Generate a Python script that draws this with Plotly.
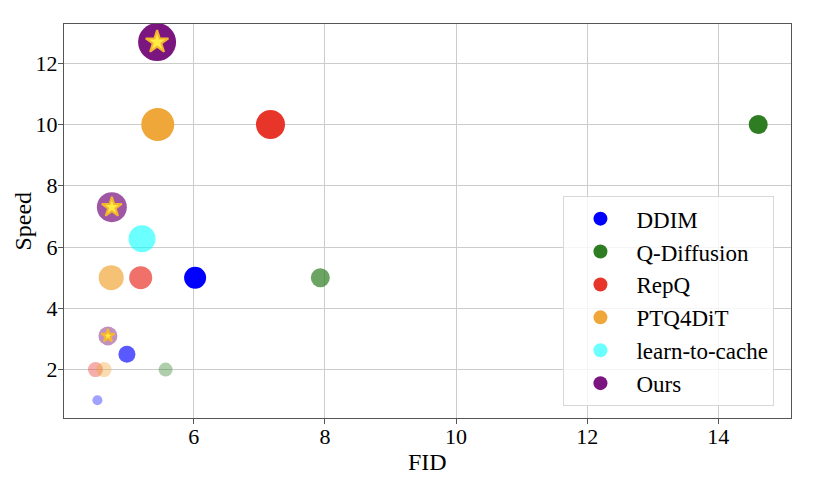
import plotly.graph_objects as go

# FID / speed for each method (three settings each)
methods = ["DDIM", "Q-Diffusion", "RepQ", "PTQ4DiT", "learn-to-cache", "Ours"]

ddim_fid = [6.02, 4.98, 4.53]
ddim_speed = [5.0, 2.5, 1.0]
ddim_size = [22, 17, 10]

qdiff_fid = [14.61, 7.93, 5.57]
qdiff_speed = [10.0, 5.0, 2.0]
qdiff_size = [19, 19, 14]

repq_fid = [7.17, 5.19, 4.50]
repq_speed = [10.0, 5.0, 2.0]
repq_size = [29, 23, 15]

ptq_fid = [5.45, 4.74, 4.63]
ptq_speed = [10.0, 5.0, 2.0]
ptq_size = [33, 25, 15]

l2c_fid = [5.21]
l2c_speed = [6.27]
l2c_size = [27]

ours_fid = [5.44, 4.75, 4.69]
ours_speed = [12.69, 7.3, 3.1]
ours_size = [38, 30, 19]
ours_star = [17, 15, 10]

series = [
    (methods[0], ddim_fid, ddim_speed, ddim_size, "#0000ff", [1.0, 0.65, 0.37]),
    (methods[1], qdiff_fid, qdiff_speed, qdiff_size, "#2e7d22", [1.0, 0.7, 0.38]),
    (methods[2], repq_fid, repq_speed, repq_size, "#e8352a", [1.0, 0.7, 0.4]),
    (methods[3], ptq_fid, ptq_speed, ptq_size, "#f0a73a", [1.0, 0.7, 0.4]),
    (methods[4], l2c_fid, l2c_speed, l2c_size, "#00ffff", [0.58]),
    (methods[5], ours_fid, ours_speed, ours_size, "#7b1680", [1.0, 0.72, 0.48]),
]

font = "Liberation Serif, Times New Roman, serif"

fig = go.Figure()
for name, fx, fy, sz, col, op in series:
    fig.add_trace(go.Scatter(x=fx, y=fy, mode="markers", showlegend=False,
                             marker=dict(size=sz, color=col, opacity=op,
                                         line=dict(width=0))))

# stars on top of our points (opacity set, bubble traces default to 0.7)
fig.add_trace(go.Scatter(x=ours_fid, y=ours_speed, mode="markers", showlegend=False,
                         marker=dict(symbol="star", size=ours_star, color="#ffec45",
                                     opacity=1, line=dict(color="#f5b52e", width=2))))

# legend entries
for name, fx, fy, sz, col, op in series:
    fig.add_trace(go.Scatter(x=[None], y=[None], mode="markers", name=name,
                             legendgroup=name,
                             marker=dict(size=14, color=col, opacity=op[0])))

# page body adds an 8px offset, so the figure is 8px smaller and margins shifted
fig.update_layout(
    width=820, height=476,
    margin=dict(l=56, r=37, t=16, b=66),
    paper_bgcolor="white", plot_bgcolor="white",
    font=dict(family=font, size=22, color="black"),
    legend=dict(x=0.687, y=0.03, xanchor="left", yanchor="bottom",
                bgcolor="rgba(255,255,255,0.8)", bordercolor="#d8d8d8", borderwidth=1,
                itemwidth=62, tracegroupgap=0, font=dict(size=23)),
    annotations=[
        dict(text="FID", x=0.5, y=-0.1125, xref="paper", yref="paper",
             xanchor="center", yanchor="middle", showarrow=False, font=dict(size=24)),
        dict(text="Speed", x=-0.057, y=0.5, xref="paper", yref="paper", textangle=-90,
             xanchor="center", yanchor="middle", showarrow=False, font=dict(size=24)),
    ],
)
fig.update_xaxes(range=[4.02, 15.11], dtick=2, tick0=0,
                 showgrid=True, gridcolor="#cccccc", gridwidth=1,
                 showline=True, linecolor="#555555", linewidth=1, mirror=True,
                 ticks="outside", ticklen=5, tickcolor="#555555",
                 zeroline=False, automargin=False, ticklabelstandoff=-6)
fig.update_yaxes(range=[0.42, 13.28], dtick=2, tick0=0,
                 showgrid=True, gridcolor="#cccccc", gridwidth=1,
                 showline=True, linecolor="#555555", linewidth=1, mirror=True,
                 ticks="outside", ticklen=5, tickcolor="#555555",
                 zeroline=False, automargin=False, ticklabelstandoff=-4)

fig.write_html("out.html")
